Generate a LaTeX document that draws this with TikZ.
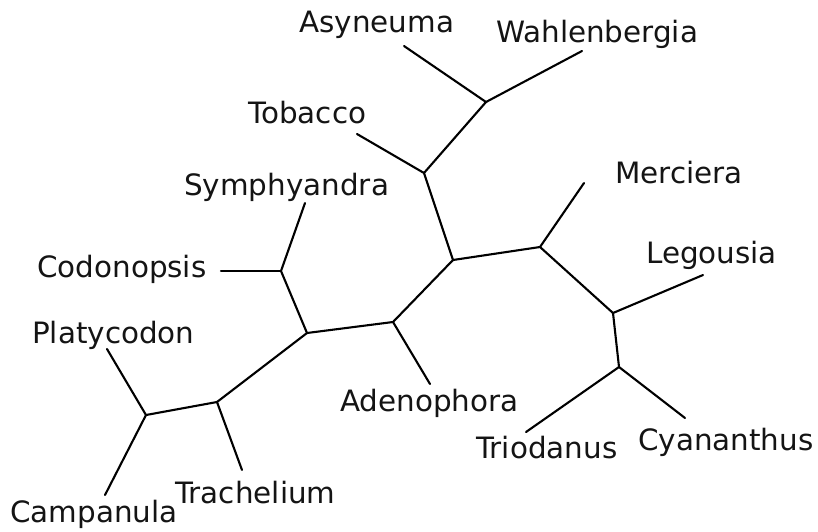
\documentclass[tikz,border=0pt]{standalone}
\usepackage{fontspec}
\setmainfont{DejaVu Sans}
\begin{document}
\begin{tikzpicture}[x=1pt,y=-1pt,
  branch/.style={line width=2.1pt,black,line cap=round},
  taxon/.style={anchor=base west,inner sep=0pt,font=\fontsize{29.4}{35}\selectfont,text=black!92}]
\useasboundingbox (0,0) rectangle (818,531);
% internal nodes
\coordinate (A) at (146,415);
\coordinate (B) at (217,402);
\coordinate (C) at (307,333);
\coordinate (G) at (281,271);
\coordinate (K) at (393,322);
\coordinate (F) at (453,260);
\coordinate (E) at (424,173);
\coordinate (D) at (486,102);
\coordinate (H) at (540,247);
\coordinate (I) at (613,313);
\coordinate (J) at (619,367);
% leaf ends
\coordinate (lPla) at (107,349);
\coordinate (lCam) at (105,495);
\coordinate (lTra) at (242,470);
\coordinate (lAde) at (430,384);
\coordinate (lTri) at (526,432);
\coordinate (lCya) at (685,418);
\coordinate (lLeg) at (703,275);
\coordinate (lMer) at (584,183);
\coordinate (lWah) at (582,51);
\coordinate (lAsy) at (404,46);
\coordinate (lTob) at (357,134);
\coordinate (lSym) at (305,203);
\coordinate (lCod) at (221,271);
% branches
\draw[branch] (lPla) -- (A) -- (lCam);
\draw[branch] (A) -- (B) -- (lTra);
\draw[branch] (B) -- (C) -- (G) -- (lSym);
\draw[branch] (G) -- (lCod);
\draw[branch] (C) -- (K) -- (lAde);
\draw[branch] (K) -- (F) -- (E) -- (lTob);
\draw[branch] (E) -- (D) -- (lAsy);
\draw[branch] (D) -- (lWah);
\draw[branch] (F) -- (H) -- (lMer);
\draw[branch] (H) -- (I) -- (lLeg);
\draw[branch] (I) -- (J) -- (lTri);
\draw[branch] (J) -- (lCya);
% labels
\node[taxon] (tAsy) at (299,32) {Asyneuma};
\node[taxon] (tWah) at (496,42) {Wahlenbergia};
\node[taxon] (tTob) at (248,123) {Tobacco};
\node[taxon] (tSym) at (184,195) {Symphyandra};
\node[taxon] (tMer) at (615,183) {Merciera};
\node[taxon] (tLeg) at (646,263) {Legousia};
\node[taxon] (tCod) at (37,277) {Codonopsis};
\node[taxon] (tPla) at (32,343) {Platycodon};
\node[taxon] (tAde) at (340,411) {Adenophora};
\node[taxon] (tTri) at (476,458) {Triodanus};
\node[taxon] (tCya) at (638,450) {Cyananthus};
\node[taxon] (tTra) at (175,503) {Trachelium};
\node[taxon] (tCam) at (10,522) {Campanula};
\end{tikzpicture}
\end{document}
